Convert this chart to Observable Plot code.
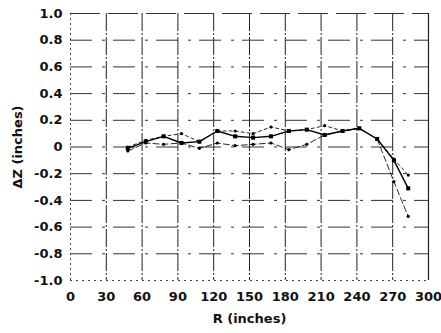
<!DOCTYPE html>
<html><head><meta charset="utf-8">
<script src="https://cdn.jsdelivr.net/npm/d3@7"></script>
<script src="https://cdn.jsdelivr.net/npm/@observablehq/plot@0.6"></script>
<style>
body{margin:0;background:#fff;}
#chart svg{font-family:"DejaVu Sans",sans-serif;}
</style>
</head><body><div id="chart"></div>
<script>
const R = [48, 63, 78, 93, 108, 123, 138, 153, 168, 183, 198, 213, 228, 242, 257, 271, 283];
const upper = [0.00, 0.05, 0.08, 0.10, 0.04, 0.12, 0.12, 0.10, 0.15, 0.12, 0.13, 0.16, 0.12, 0.14, 0.06, -0.09, -0.21];
const middle = [-0.01, 0.04, 0.08, 0.03, 0.04, 0.12, 0.08, 0.07, 0.08, 0.12, 0.13, 0.09, 0.12, 0.14, 0.06, -0.10, -0.31];
const lower = [-0.03, 0.03, 0.02, 0.03, -0.01, 0.03, 0.01, 0.02, 0.03, -0.02, 0.02, 0.09, 0.12, 0.14, 0.06, -0.26, -0.52];
const xTicks = [0, 30, 60, 90, 120, 150, 180, 210, 240, 270, 300];
const yTicks = [1.0, 0.8, 0.6, 0.4, 0.2, 0, -0.2, -0.4, -0.6, -0.8, -1.0];

const rows = (ys) => R.map((r, i) => ({r, z: ys[i]}));
const U = rows(upper), M = rows(middle), L = rows(lower);

const chart = Plot.plot({
  width: 441, height: 333,
  marginLeft: 70, marginRight: 13, marginTop: 13, marginBottom: 53,
  style: {fontSize: "13px", fontWeight: "bold", color: "#111", background: "#fff"},
  x: {domain: [0, 300]},
  y: {domain: [-1, 1]},
  marks: [
    Plot.ruleX(xTicks.filter(d => d > 0 && d < 300), {stroke: "#222", strokeWidth: 1, strokeDasharray: "18,2,2,2"}),
    Plot.ruleY(yTicks.filter(d => d > -1 && d < 1), {stroke: "#333", strokeWidth: 1, strokeDasharray: "22,10,3,8"}),
    Plot.ruleX([0], {stroke: "#444", strokeDasharray: "2,3"}),
    Plot.ruleX([300], {stroke: "#222", strokeWidth: 1.2}),
    Plot.ruleY([1], {stroke: "#333", strokeWidth: 1.2, strokeDasharray: "30,8"}),
    Plot.ruleY([-1], {stroke: "#444", strokeDasharray: "2,4"}),
    Plot.line(U, {x: "r", y: "z", stroke: "#111", strokeWidth: 0.9, strokeDasharray: "3,3"}),
    Plot.line(L, {x: "r", y: "z", stroke: "#111", strokeWidth: 0.9, strokeDasharray: "6,3"}),
    Plot.line(M, {x: "r", y: "z", stroke: "#000", strokeWidth: 1.4}),
    Plot.dot(U, {x: "r", y: "z", r: 1.6, fill: "#000"}),
    Plot.dot(L, {x: "r", y: "z", r: 1.6, fill: "#000"}),
    Plot.dot(M, {x: "r", y: "z", r: 2.3, symbol: "square", fill: "#000"}),
    Plot.axisX({ticks: xTicks, tickSize: 0, tickPadding: 11, label: "R (inches)", labelAnchor: "center", labelArrow: "none", labelOffset: 42, fontSize: 13}),
    Plot.axisY({ticks: yTicks, tickSize: 0, tickPadding: 8, tickFormat: d => d === 0 ? "0" : d.toFixed(1), label: "ΔZ (inches)", labelAnchor: "center", labelArrow: "none", labelOffset: 58, fontSize: 13})
  ]
});
document.getElementById("chart").appendChild(chart);
</script>
</body></html>
